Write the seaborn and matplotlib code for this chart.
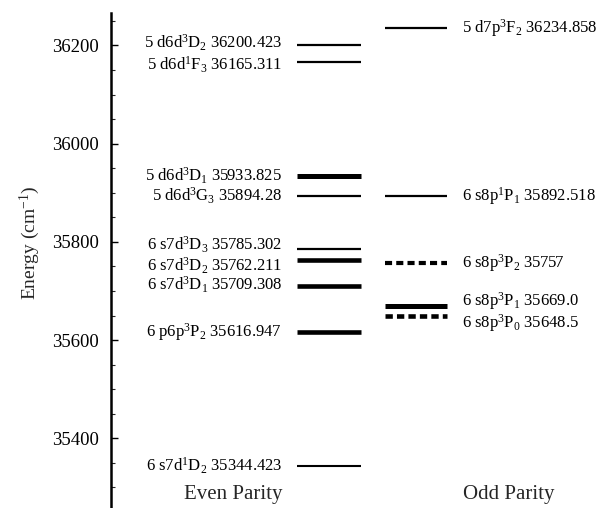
import matplotlib
matplotlib.use("Agg")
import matplotlib.pyplot as plt
import seaborn as sns
import pandas as pd

# ---- data ----
even_config = ["5 d6d", "5 d6d", "5 d6d", "5 d6d", "6 s7d", "6 s7d", "6 s7d", "6 p6p", "6 s7d"]
even_mult = ["3", "1", "3", "3", "3", "3", "3", "3", "1"]
even_L = ["D", "F", "D", "G", "D", "D", "D", "P", "D"]
even_J = ["2", "3", "1", "3", "3", "2", "1", "2", "2"]
even_energy_text = ["36200.423", "36165.311", "35933.825", "35894.28", "35785.302",
                    "35762.211", "35709.308", "35616.947", "35344.423"]
even_energy = [float(v) for v in even_energy_text]

odd_config = ["5 d7p", "6 s8p", "6 s8p", "6 s8p", "6 s8p"]
odd_mult = ["3", "1", "3", "3", "3"]
odd_L = ["F", "P", "P", "P", "P"]
odd_J = ["2", "1", "2", "1", "0"]
odd_energy_text = ["36234.858", "35892.518", "35757", "35669.0", "35648.5"]
odd_energy = [float(v) for v in odd_energy_text]

group_names = ["Even Parity", "Odd Parity"]
y_ticks = [35400, 35600, 35800, 36000, 36200]

# ---- styles ----
even_lw = [1.6, 1.6, 3.6, 1.6, 1.6, 3.3, 3.3, 3.3, 1.5]
even_ls = ["-"] * 9
even_dy = [1.5, -1.5, 0, 0, 3, -4, 1, 0, 0]          # label nudges (points)
odd_lw = [1.6, 1.6, 3.0, 3.6, 3.3]
odd_ls = ["-", "-", (0, (1.7, 1.0)), "-", (0, (1.6, 0.9))]
odd_dy = [0, 0, 0, 4, -5]

sns.set_theme(style="ticks")
plt.rcParams["font.family"] = ["Liberation Serif", "DejaVu Serif"]
plt.rcParams["mathtext.fontset"] = "custom"
plt.rcParams["mathtext.rm"] = "Liberation Serif"
plt.rcParams["mathtext.it"] = "Liberation Serif:italic"

W, H = 607, 508
fig = plt.figure(figsize=(W / 100, H / 100), dpi=100)
ax = fig.add_axes([111 / W, 0, 1 - 111 / W, 1 - 13 / H])
ax.set_xlim(0, 1)
ax.set_ylim(35258, 36266)

even_x = (0.375, 0.504)
odd_x = (0.552, 0.677)


def label(cfg, m, L, J, e):
    return f"{cfg}$^{{{m}}}$$\\mathrm{{{L}}}_{{{J}}}$ {e}"


rows = []
for i, e in enumerate(even_energy):
    for x in even_x:
        rows.append({"x": x, "E": e, "level": f"e{i}"})
df_even = pd.DataFrame(rows)
rows = []
for i, e in enumerate(odd_energy):
    for x in odd_x:
        rows.append({"x": x, "E": e, "level": f"o{i}"})
df_odd = pd.DataFrame(rows)

for i, e in enumerate(even_energy):
    sub = df_even[df_even["level"] == f"e{i}"]
    sns.lineplot(data=sub, x="x", y="E", ax=ax, color="black", lw=even_lw[i],
                 ls=even_ls[i], solid_capstyle="butt", legend=False)
    ax.annotate(label(even_config[i], even_mult[i], even_L[i], even_J[i], even_energy_text[i]),
                xy=(0.345, e), xytext=(0, even_dy[i]), textcoords="offset points",
                ha="right", va="center", fontsize=12, color="black")

for i, e in enumerate(odd_energy):
    sub = df_odd[df_odd["level"] == f"o{i}"]
    sns.lineplot(data=sub, x="x", y="E", ax=ax, color="black", lw=odd_lw[i],
                 ls=odd_ls[i], solid_capstyle="butt", dash_capstyle="butt", legend=False)
    ax.annotate(label(odd_config[i], odd_mult[i], odd_L[i], odd_J[i], odd_energy_text[i]),
                xy=(0.708, e), xytext=(0, odd_dy[i]), textcoords="offset points",
                ha="left", va="center", fontsize=12, color="black")

ax.text(0.345, 35285, group_names[0], ha="right", va="center", fontsize=15)
ax.text(0.71, 35285, group_names[1], ha="left", va="center", fontsize=15)

sns.despine(ax=ax, bottom=True, right=True, top=True)
ax.spines["left"].set_linewidth(1.8)
ax.spines["left"].set_color("black")
ax.set_xticks([])
ax.set_xlabel("")
ax.set_yticks(y_ticks)
ax.set_yticklabels([str(t) for t in y_ticks])
ax.set_yticks([v for v in range(35300, 36300, 50) if v not in y_ticks], minor=True)
ax.tick_params(axis="y", which="major", direction="in", length=5, width=1, pad=8.5,
               labelsize=13.5, colors="black")
ax.tick_params(axis="y", which="minor", direction="in", length=3, width=0.8)
ax.set_ylabel("Energy (cm$^{-1}$)", fontsize=14)
ax.yaxis.set_label_coords((42 - 111) / (W - 111), (508 - 243) / (H - 13))
ax.set_facecolor("white")
fig.patch.set_facecolor("white")

fig.savefig("out.png", dpi=100)
